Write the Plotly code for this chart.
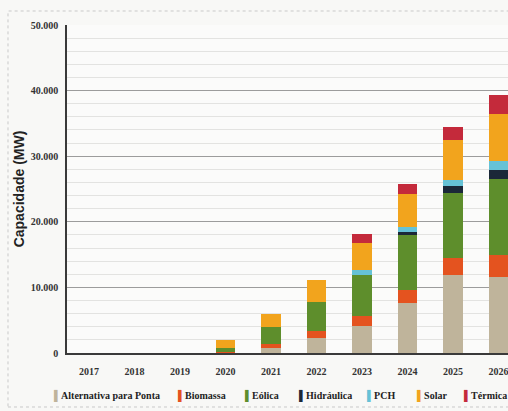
import plotly.graph_objects as go

# Installed capacity additions by source (MW), 2017-2026
years = ["2017", "2018", "2019", "2020", "2021", "2022", "2023", "2024", "2025", "2026"]

alternativa = [0, 0, 0, 0, 690, 2300, 4050, 7560, 11830, 11610]
biomassa = [0, 0, 0, 100, 720, 1000, 1530, 2030, 2700, 3360]
eolica = [0, 0, 0, 600, 2540, 4430, 6340, 8400, 9860, 11560]
hidraulica = [0, 0, 0, 0, 0, 0, 0, 500, 1020, 1300]
pch = [0, 0, 0, 0, 0, 0, 690, 760, 920, 1480]
solar = [0, 0, 0, 1350, 2050, 3420, 4200, 5040, 6110, 7180]
termica = [0, 0, 0, 0, 0, 0, 1370, 1450, 2060, 2830]

series_names = ["Alternativa para Ponta", "Biomassa", "Eólica", "Hidráulica", "PCH", "Solar", "Térmica"]
series_values = [alternativa, biomassa, eolica, hidraulica, pch, solar, termica]
series_colors = ["#bfb49b", "#e4531f", "#5e8e2c", "#1b2838", "#66c2d6", "#f2a41d", "#c42a3b"]

# pixel x where each legend entry starts (marker glyph)
legend_x_px = [52, 176, 243, 297, 365, 415, 462]

W, H = 508, 411
M_L, M_R, M_T, M_B = 67, 0, 25, 58
plot_w = W - M_L - M_R
plot_h = H - M_T - M_B

serif = "Liberation Serif"

fig = go.Figure()
for name, vals, col in zip(series_names, series_values, series_colors):
    fig.add_trace(go.Bar(
        x=years, y=vals, name=name, marker=dict(color=col, line=dict(width=0)),
        width=0.42, showlegend=False,
    ))

# legend row drawn as text entries with a coloured block marker
for name, col, px in zip(series_names, series_colors, legend_x_px):
    fig.add_annotation(
        xref="paper", yref="paper",
        x=(px - M_L) / plot_w, y=-(396 - (M_T + plot_h)) / plot_h,
        xanchor="left", yanchor="middle", showarrow=False,
        text=f"<span style='color:{col}'>▌</span>{name}",
        font=dict(family=serif, size=10, color="#222222", weight="bold"),
    )

# dotted frame around the chart
fig.add_shape(
    type="rect", xref="paper", yref="paper",
    x0=(8 - M_L) / plot_w, x1=1.02,
    y0=-(407 - (M_T + plot_h)) / plot_h, y1=1 + (M_T - 11) / plot_h,
    line=dict(color="#c9c9c9", width=1, dash="dot"), layer="below",
)

fig.update_layout(
    width=W, height=H,
    margin=dict(l=M_L, r=M_R, t=M_T, b=M_B, pad=0),
    barmode="stack",
    bargap=0.58,
    separators=",.",
    paper_bgcolor="#f8f8f6",
    plot_bgcolor="#fbfbfa",
    font=dict(family=serif, size=10, color="#2a2a2a"),
    xaxis=dict(
        type="category", range=[-0.484, 9.21],
        showgrid=False, showline=True, linecolor="#3a3a3a", linewidth=2,
        ticks="", ticklabelstandoff=8,
        tickfont=dict(family=serif, size=10, color="#333333", weight="bold"),
    ),
    yaxis=dict(
        range=[0, 50000], tickvals=[0, 10000, 20000, 30000, 40000, 50000],
        tickformat=",d",
        showgrid=True, gridcolor="#9c9c9c", gridwidth=1,
        minor=dict(dtick=2000, showgrid=True, gridcolor="#e3e3e1", gridwidth=1),
        showline=True, linecolor="#3a3a3a", linewidth=1.5,
        zeroline=False, ticks="", ticklabelstandoff=5,
        tickfont=dict(family=serif, size=10, color="#333333", weight="bold"),
        title=dict(text="Capacidade (MW)", standoff=3,
                   font=dict(family="Liberation Sans", size=14, color="#222222", weight="bold")),
    ),
)

fig.write_html("out.html")
